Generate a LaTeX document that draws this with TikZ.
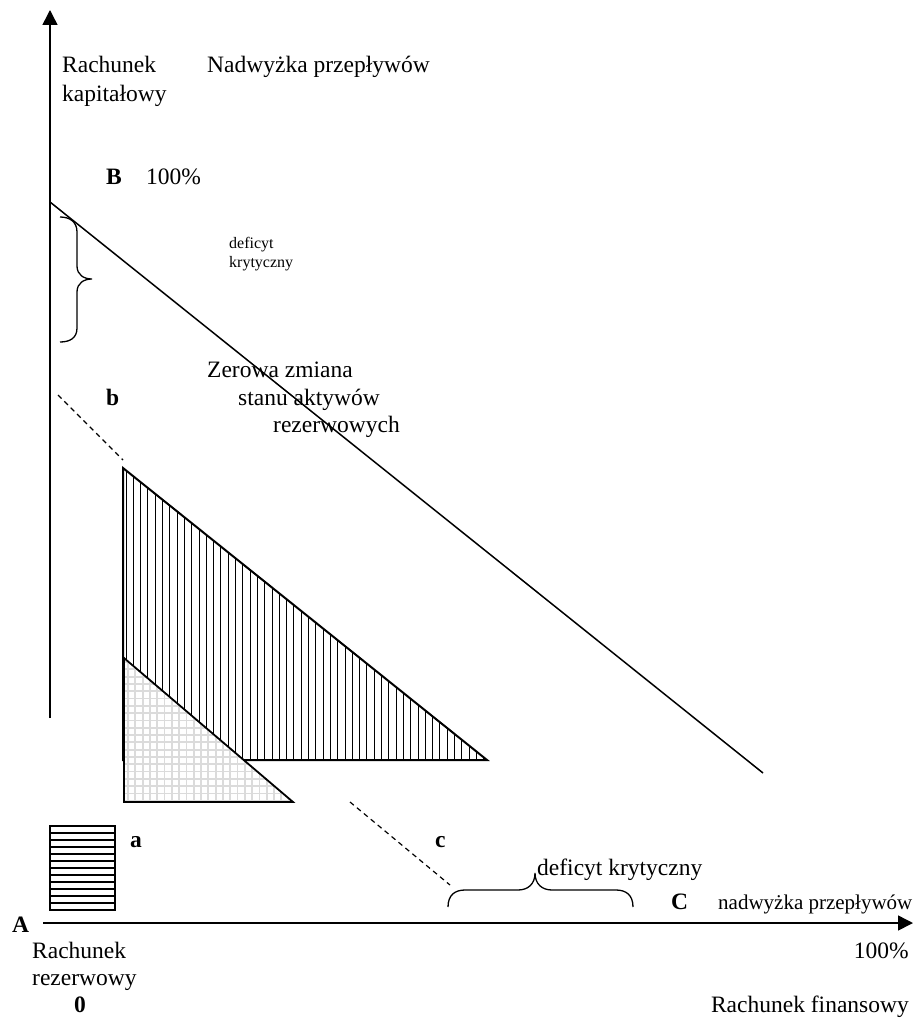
\documentclass[tikz,border=0pt]{standalone}
\usepackage{fontspec}
\setmainfont{Liberation Serif}
\usetikzlibrary{arrows.meta}
\begin{document}
\begin{tikzpicture}[x=1pt,y=-1pt,
  lbl/.style={inner sep=0pt,anchor=base west,font=\fontsize{23.5}{28}\selectfont},
  lblr/.style={inner sep=0pt,anchor=base east,font=\fontsize{23.5}{28}\selectfont},
  lblb/.style={lbl,font=\fontsize{23.5}{28}\selectfont\bfseries},
  lblsmall/.style={inner sep=0pt,anchor=base west,font=\fontsize{16}{19}\selectfont},
  lblmid/.style={inner sep=0pt,anchor=base west,font=\fontsize{21}{25}\selectfont},
  axis/.style={line width=1.5pt,-{Triangle[length=15pt,width=15pt]}},
  mainline/.style={line width=1.5pt},
  dashline/.style={line width=1.2pt,dash pattern=on 5pt off 4pt},
  bracestyle/.style={line width=1.3pt},
  outline/.style={line width=2pt,line join=miter},
  hatchline/.style={line width=0.9pt,black},
  gridline/.style={line width=1.8pt,gray!28},
  stripeline/.style={line width=1.3pt,black}
]
\useasboundingbox (0,0) rectangle (916,1019);

% coordinates
\coordinate (yaxisbottom) at (50,718);
\coordinate (yaxistop) at (50,10);
\coordinate (xaxisleft) at (43,923);
\coordinate (xaxisright) at (913,923);
\coordinate (lineB) at (50,202);
\coordinate (lineC) at (763,773);
\coordinate (dashAstart) at (58,395);
\coordinate (dashAend) at (123,460);
\coordinate (dashBstart) at (350,802);
\coordinate (dashBend) at (450,885);

% hatched triangle (vertical lines)
\coordinate (hA) at (123,468);
\coordinate (hB) at (123,760);
\coordinate (hC) at (487,760);
\fill[white] (hA) -- (hB) -- (hC) -- cycle;
\begin{scope}
  \clip (hA) -- (hB) -- (hC) -- cycle;
  \foreach \x in {126,133.3,...,490} \draw[hatchline] (\x,460) -- (\x,770);
\end{scope}
\draw[outline] (hA) -- (hB) -- (hC) -- cycle;

% gray cross-hatched triangle
\coordinate (gA) at (124,658);
\coordinate (gB) at (124,802);
\coordinate (gC) at (293,802);
\fill[white] (gA) -- (gB) -- (gC) -- cycle;
\begin{scope}
  \clip (gA) -- (gB) -- (gC) -- cycle;
  \foreach \x in {128,135.3,...,300} \draw[gridline] (\x,650) -- (\x,810);
  \foreach \y in {662,669.3,...,805} \draw[gridline] (115,\y) -- (300,\y);
\end{scope}
\draw[outline,line width=1.8pt] (gA) -- (gB) -- (gC) -- cycle;

% striped box
\coordinate (sA) at (50,826);
\coordinate (sB) at (115,910);
\foreach \y in {833,840,...,905} \draw[stripeline] (50,\y) -- (115,\y);
\draw[outline] (sA) rectangle (sB);

% axes and lines
\draw[axis] (yaxisbottom) -- (yaxistop);
\draw[axis] (xaxisleft) -- (xaxisright);
\draw[mainline] (lineB) -- (lineC);
\draw[dashline] (dashAstart) -- (dashAend);
\draw[dashline] (dashBstart) -- (dashBend);

% braces
\draw[bracestyle] (60,217) .. controls (70,217) and (77,222) .. (77,232) -- (77,266)
  .. controls (77,275) and (84,279) .. (92,279)
  .. controls (84,279) and (77,283) .. (77,292) -- (77,328)
  .. controls (77,338) and (70,342) .. (60,342);
\draw[bracestyle] (448,907) .. controls (448,895) and (455,890) .. (465,890) -- (518,890)
  .. controls (528,890) and (535,884) .. (535,873)
  .. controls (535,884) and (542,890) .. (552,890) -- (616,890)
  .. controls (626,890) and (633,895) .. (633,907);

% labels
\node[lbl] (rk1) at (62,73) {Rachunek};
\node[lbl] (rk2) at (62,101.5) {kapitałowy};
\node[lbl] (nadtop) at (207,73) {Nadwyżka przepływów};
\node[lblb] (Blbl) at (106,185) {B};
\node[lbl] (B100) at (146,185) {100\%};
\node[lblsmall] (def1) at (229,248) {deficyt};
\node[lblsmall] (def2) at (229,267) {krytyczny};
\node[lbl] (zer1) at (207,377) {Zerowa zmiana};
\node[lbl] (zer2) at (238,405) {stanu aktywów};
\node[lbl] (zer3) at (273,432) {rezerwowych};
\node[lblb] (blbl) at (106,405) {b};
\node[lblb] (albl) at (130,847) {a};
\node[lblb] (clbl) at (435,847) {c};
\node[lbl] (defbot) at (537,875) {deficyt krytyczny};
\node[lblb] (Clbl) at (671,909) {C};
\node[lblmid] (nadbot) at (718,909) {nadwyżka przepływów};
\node[lblb] (Albl) at (12,932) {A};
\node[lbl] (rr1) at (32,958) {Rachunek};
\node[lbl] (rr2) at (32,985) {rezerwowy};
\node[lblb] (zero) at (74,1012) {0};
\node[lblr] (x100) at (909,958) {100\%};
\node[lblr] (rf) at (909,1012) {Rachunek finansowy};
\end{tikzpicture}
\end{document}
